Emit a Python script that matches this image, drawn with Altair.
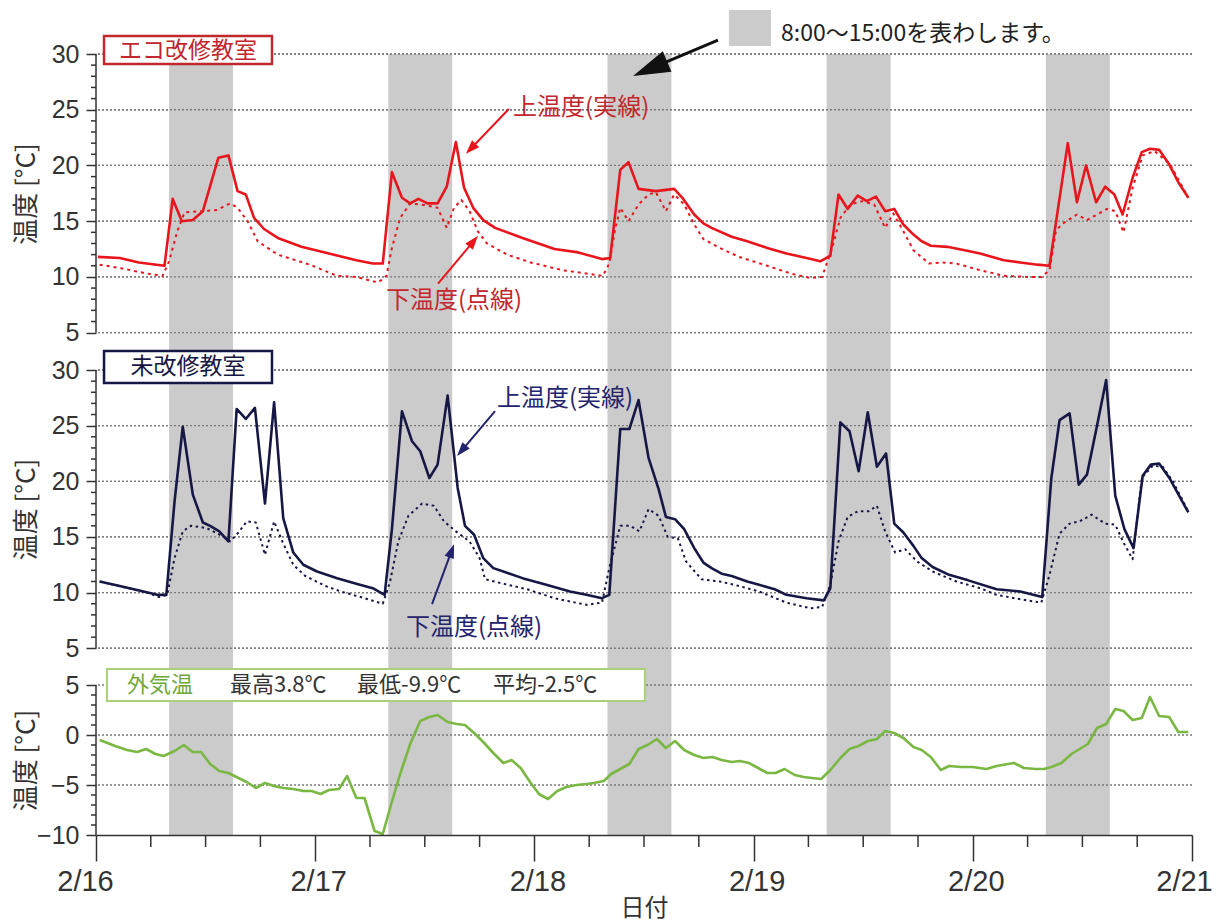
import math
import altair as alt
import pandas as pd

CJK = "Noto Sans CJK JP"
NUM = "Liberation Sans"

# ---------------- data (hours since 2/16 00:00) ----------------
band_start_h = [8, 32, 56, 80, 104]
band_end_h = [15, 39, 63, 87, 111]

eco_upper_h = [0.2, 2.6, 4.7, 7.5, 8.4, 9.4, 10.6, 11.7, 13.4, 14.5, 15.5, 16.4, 17.3, 18.4, 19.9,
               22.5, 25.5, 28.5, 30.3, 31.4, 32.4, 33.5, 34.4, 35.3, 36.3, 37.4, 38.4, 39.4, 40.3,
               41.3, 42.4, 43.7, 46.7, 50.2, 52.8, 55.4, 56.3, 57.4, 58.3, 59.4, 61.3, 63.3, 64.2,
               65.5, 66.5, 67.4, 69.6, 71.3, 73.5, 75.6, 77.8, 79.3, 80.4, 81.3, 82.3, 83.4, 84.4,
               85.4, 86.4, 87.4, 88.4, 89.5, 90.4, 91.4, 93.2, 95.1, 96.8, 99.4, 101.2, 103.1, 104.4,
               106.4, 107.4, 108.4, 109.5, 110.5, 111.5, 112.4, 113.5, 114.5, 115.4, 116.4, 117.5,
               118.5, 119.6]
eco_upper_v = [11.8, 11.7, 11.3, 11.0, 17.0, 15.0, 15.1, 15.9, 20.7, 20.9, 17.7, 17.4, 15.3, 14.3, 13.5,
               12.7, 12.1, 11.5, 11.2, 11.2, 19.4, 17.1, 16.6, 17.0, 16.6, 16.6, 18.1, 22.1, 18.0,
               16.2, 15.1, 14.4, 13.5, 12.5, 12.2, 11.6, 11.7, 19.6, 20.3, 17.9, 17.7, 17.9, 17.1,
               15.6, 14.8, 14.4, 13.6, 13.2, 12.6, 12.1, 11.7, 11.4, 11.9, 17.4, 16.1, 17.3, 16.8,
               17.2, 15.9, 16.1, 14.7, 13.8, 13.2, 12.8, 12.7, 12.4, 12.1, 11.5, 11.3, 11.1, 11.0,
               22.0, 16.7, 20.0, 16.7, 18.1, 17.4, 15.6, 18.9, 21.2, 21.5, 21.4, 20.1,
               18.5, 17.1]

eco_lower_h = [0.4, 2.6, 5.6, 7.3, 8.0, 8.9, 9.7, 11.7, 13.2, 14.7, 15.5, 16.6, 17.7, 19.9, 23.4,
               26.4, 28.5, 30.9, 31.8, 32.4, 33.3, 34.4, 35.5, 36.3, 37.4, 38.4, 39.2, 40.0, 40.9,
               41.8, 42.8, 45.0, 47.6, 51.1, 53.7, 55.5, 56.2, 56.8, 57.4, 58.3, 59.4, 60.5, 61.3,
               62.4, 63.3, 64.4, 65.5, 66.5, 68.3, 70.4, 73.5, 76.1, 78.2, 79.5, 80.6, 81.5, 82.6,
               83.9, 85.2, 86.4, 87.3, 88.4, 89.5, 91.2, 92.5, 94.2, 96.8, 99.4, 102.0, 103.5, 104.4,
               105.1, 105.7, 107.4, 108.5, 110.7, 111.6, 112.5, 113.5, 114.6, 115.9, 117.6, 119.6]
eco_lower_v = [11.1, 10.8, 10.3, 10.1, 11.4, 14.1, 15.8, 15.9, 16.0, 16.6, 16.2, 15.0, 13.2, 12.0, 11.1,
               10.1, 10.0, 9.5, 10.1, 12.6, 15.3, 16.6, 16.5, 16.4, 16.2, 14.4, 16.2, 16.9, 15.9,
               14.1, 13.0, 12.0, 11.3, 10.6, 10.3, 10.1, 11.2, 14.1, 16.2, 15.0, 16.5, 17.4, 17.6,
               15.9, 17.4, 16.5, 14.7, 13.4, 12.6, 11.8, 11.0, 10.3, 9.9, 10.0, 12.6, 15.3, 16.5,
               16.8, 16.5, 14.4, 15.7, 14.1, 12.4, 11.2, 11.3, 11.2, 10.6, 10.1, 10.0, 10.0, 10.6,
               14.1, 14.7, 15.6, 15.1, 16.1, 15.9, 14.0, 18.0, 20.9, 21.3, 20.1, 17.1]

old_upper_h = [0.4, 2.6, 5.2, 6.7, 7.7, 8.6, 9.5, 10.6, 11.7, 12.5, 13.5, 14.5, 15.4, 16.4, 17.4,
               18.5, 19.5, 20.5, 21.6, 22.7, 24.2, 26.4, 28.5, 30.3, 31.6, 32.4, 33.5, 34.6, 35.5,
               36.5, 37.4, 38.5, 39.6, 40.4, 41.4, 42.4, 43.5, 44.6, 46.7, 49.3, 51.9, 53.7, 55.4,
               56.2, 57.4, 58.4, 59.4, 60.5, 61.6, 62.4, 63.4, 64.4, 65.5, 66.5, 67.4, 68.5, 69.6,
               71.3, 72.6, 74.3, 75.6, 77.8, 79.7, 80.4, 81.5, 82.5, 83.5, 84.5, 85.5, 86.5, 87.4,
               88.4, 89.5, 90.4, 91.6, 93.4, 95.5, 98.6, 101.2, 103.6, 104.6, 105.5, 106.6, 107.6,
               108.5, 109.6, 110.6, 111.6, 112.6, 113.6, 114.6, 115.5, 116.4, 117.6, 118.6, 119.6]
old_upper_v = [11.0, 10.6, 10.1, 9.8, 9.8, 18.2, 24.9, 18.8, 16.3, 16.0, 15.5, 14.6, 26.5, 25.6, 26.6,
               18.0, 27.1, 16.7, 13.6, 12.5, 11.9, 11.3, 10.8, 10.4, 9.8, 15.7, 26.3, 23.6, 22.7,
               20.3, 21.5, 27.7, 19.4, 16.0, 15.2, 13.1, 12.2, 11.9, 11.3, 10.7, 10.1, 9.8, 9.5,
               9.8, 24.7, 24.7, 27.3, 22.1, 19.3, 16.8, 16.6, 15.7, 14.0, 12.7, 12.2, 11.7, 11.5,
               11.0, 10.7, 10.3, 9.8, 9.5, 9.3, 10.4, 25.3, 24.5, 20.9, 26.2, 21.3, 22.5, 16.2,
               15.4, 14.2, 13.1, 12.3, 11.6, 11.1, 10.3, 10.1, 9.6, 20.3, 25.5, 26.1, 19.7,
               20.6, 25.0, 29.1, 18.7, 15.7, 14.0, 20.5, 21.5, 21.6, 20.2, 18.7, 17.2]

old_lower_h = [0.4, 5.6, 6.9, 7.8, 8.6, 9.5, 10.4, 12.1, 13.8, 14.7, 15.6, 16.5, 17.5, 18.5, 19.5,
               20.4, 21.6, 22.9, 25.1, 26.8, 29.4, 31.4, 32.2, 33.1, 34.2, 35.7, 37.0, 38.1, 39.4,
               40.9, 42.0, 42.6, 44.1, 47.2, 50.2, 53.7, 55.4, 56.2, 57.4, 58.5, 59.5, 60.5, 61.6,
               62.6, 63.7, 64.6, 66.3, 68.3, 70.4, 72.6, 75.6, 78.2, 79.5, 80.4, 81.3, 82.3, 83.4,
               84.6, 85.5, 86.4, 87.5, 88.6, 89.9, 91.6, 94.2, 96.8, 98.6, 101.2, 103.5, 104.4, 105.5,
               106.6, 107.7, 109.0, 110.5, 111.6, 112.5, 113.5, 114.5, 115.7, 116.8, 117.9, 119.6]
old_lower_v = [11.0, 10.0, 9.6, 9.8, 13.1, 15.5, 16.0, 15.8, 15.1, 14.6, 15.4, 16.4, 16.3, 13.4, 16.4,
               14.6, 12.5, 11.5, 10.6, 10.1, 9.5, 9.0, 11.0, 14.6, 16.9, 18.0, 17.8, 16.4, 15.5,
               14.6, 13.1, 11.2, 10.9, 10.3, 9.5, 8.9, 9.1, 12.2, 16.0, 16.0, 15.5, 17.5, 16.9,
               15.0, 14.9, 12.8, 11.2, 11.0, 10.6, 10.1, 9.1, 8.6, 8.7, 10.7, 14.6, 16.8, 17.3,
               17.3, 17.8, 15.5, 13.6, 13.9, 12.8, 11.9, 11.0, 10.4, 9.8, 9.4, 9.1, 11.6, 15.3,
               16.2, 16.4, 17.0, 16.2, 16.1, 14.5, 13.0, 20.3, 21.4, 21.3, 20.0, 17.3]

out_h = [0.4, 2.1, 3.4, 4.5, 5.5, 6.5, 7.4, 8.6, 9.6, 10.6, 11.5, 12.5, 13.5, 14.5, 15.6, 16.5, 17.5,
         18.5, 19.5, 20.5, 21.6, 22.7, 23.6, 24.6, 25.5, 26.6, 27.5, 28.5, 29.4, 30.5, 31.4, 32.2,
         33.3, 34.4, 35.5, 36.5, 37.4, 38.5, 39.5, 40.4, 41.4, 42.5, 43.5, 44.6, 45.5, 46.5, 47.6,
         48.5, 49.5, 50.5, 51.5, 52.6, 53.7, 54.5, 55.6, 56.4, 57.4, 58.4, 59.4, 60.4, 61.4, 62.4,
         63.4, 64.4, 65.5, 66.5, 67.5, 68.5, 69.6, 70.5, 71.5, 72.5, 73.5, 74.4, 75.4, 76.5, 77.5,
         78.4, 79.4, 80.5, 81.5, 82.5, 83.5, 84.5, 85.5, 86.4, 87.4, 88.4, 89.5, 90.4, 91.4, 92.5,
         93.4, 94.7, 96.0, 97.5, 98.6, 100.5, 101.6, 102.9, 103.8, 104.6, 105.7, 106.8, 107.7,
         108.6, 109.6, 110.6, 111.6, 112.5, 113.5, 114.5, 115.4, 116.4, 117.5, 118.5, 119.6]
out_v = [-0.5, -1.1, -1.5, -1.7, -1.4, -1.9, -2.1, -1.6, -1.0, -1.7, -1.7, -2.9, -3.6, -3.8, -4.3, -4.7, -5.3,
         -4.8, -5.1, -5.3, -5.4, -5.6, -5.6, -5.9, -5.5, -5.4, -4.1, -6.3, -6.3, -9.6, -9.9, -7.3,
         -3.9, -0.9, 1.4, 1.8, 2.0, 1.3, 1.1, 1.0, 0.2, -0.8, -1.8, -2.8, -2.5, -3.3, -4.8,
         -5.9, -6.4, -5.6, -5.2, -5.0, -4.9, -4.8, -4.6, -3.9, -3.4, -2.9, -1.4, -1.0, -0.4, -1.3,
         -0.6, -1.5, -2.0, -2.3, -2.2, -2.5, -2.7, -2.6, -2.8, -3.3, -3.8, -3.8, -3.4, -4.0, -4.2,
         -4.3, -4.4, -3.4, -2.3, -1.4, -1.1, -0.6, -0.4, 0.4, 0.2, -0.3, -1.2, -1.5, -2.2, -3.5,
         -3.1, -3.2, -3.2, -3.4, -3.1, -2.8, -3.3, -3.4, -3.4, -3.2, -2.8, -1.9, -1.4,
         -0.9, 0.7, 1.1, 2.6, 2.4, 1.5, 1.7, 3.8, 1.9, 1.8, 0.3, 0.3]

x_major_hours = [0, 24, 48, 72, 96, 120]
x_minor_hours = [6, 12, 18, 30, 36, 42, 54, 60, 66, 78, 84, 90, 102, 108, 114]
room_major = [5, 10, 15, 20, 25, 30]
room_minor = [v for v in range(6, 30) if v % 5 != 0]
out_major = [-10, -5, 0, 5]
out_minor = [v for v in range(-9, 5) if v % 5 != 0]
room_grid = [5, 10, 15, 20, 25, 30]
out_grid = [-5, 0, 5]

# ---------------- layout / style ----------------
W = 1096
H = [316, 315, 150]
DOMAINS = [[1.65, 30], [1.7, 30], [-10, 5]]
AXIS_C = "#333333"
BAND_C = "#cbcbcb"
GRID_C = "#7a7a7a"
RED = "#e8161c"
RED_T = "#c1272d"
NAVY = "#171745"
NAVY_T = "#24246e"
GREEN = "#7ab843"
GREEN_B = "#a9d07a"
GREEN_T = "#6ea83a"
ANN = 24

XS = alt.Scale(domain=[0, 120], nice=False, zero=False)
U = alt.Undefined


def X(field, p, axis=U):
    if p < 2:
        axis = None  # no x axis on the upper panels
    return alt.X(field, type="quantitative", scale=XS, axis=axis)


def Y(field, p, axis=U):
    return alt.Y(field, type="quantitative",
                 scale=alt.Scale(domain=DOMAINS[p], nice=False, zero=False), axis=axis)


def y_axis(vals, title_y):
    return alt.Axis(
        values=vals, domain=False, grid=False, zindex=1,
        tickSize=10, tickColor=AXIS_C, tickWidth=1.5, labelOverlap=False, labelFlush=False,
        labelFont=NUM, labelFontSize=25, labelColor=AXIS_C, labelPadding=7,
        title="温度 [°C]", titleFont=CJK, titleFontSize=26, titleFontWeight="normal",
        titleColor=AXIS_C, titleAngle=270, titleAlign="center", titleBaseline="middle",
        titleX=-70, titleY=title_y,
    )


x_axis = alt.Axis(
    values=x_major_hours, grid=False, zindex=1, domainColor=AXIS_C, domainWidth=1.5,
    labelExpr="'2/' + (16 + datum.value / 24)",
    tickSize=26,
    labelOffset={"condition": [{"test": "datum.value === 0", "value": -11},
                               {"test": "datum.value === 120", "value": -8}], "value": 3},
    tickColor=AXIS_C, tickWidth=1.5, labelOverlap=False, labelFlush=False,
    labelFont=NUM, labelFontSize=29, labelColor=AXIS_C, labelPadding=6,
    title="日付", titleFont=CJK, titleFontSize=24, titleFontWeight="normal",
    titleColor=AXIS_C, titlePadding=0,
)


def bands(p, axis=U):
    df = pd.DataFrame({"s": band_start_h, "e": band_end_h})
    return alt.Chart(df).mark_rect(color=BAND_C).encode(x=X("s", p, axis), x2="e")


def grid(vals, p, axis):
    df = pd.DataFrame({"v": vals})
    return alt.Chart(df).mark_rule(color=GRID_C, strokeWidth=1.3, strokeDash=[2, 2]).encode(
        y=Y("v", p, axis))


def yline(lo, hi, p):
    df = pd.DataFrame({"x": [0], "y": [lo], "y2": [hi]})
    return alt.Chart(df).mark_rule(color=AXIS_C, strokeWidth=1.5).encode(
        x=X("x", p), y=Y("y", p), y2="y2")


def y_minor(vals, p):
    df = pd.DataFrame({"v": vals})
    return alt.Chart(df).mark_rule(color=AXIS_C, strokeWidth=1.5).encode(
        x=alt.value(-5), x2=alt.value(0), y=Y("v", p))


def x_minor(vals, p):
    df = pd.DataFrame({"h": vals})
    return alt.Chart(df).mark_rule(color=AXIS_C, strokeWidth=1.5).encode(
        x=X("h", p), y=alt.value(H[p]), y2=alt.value(H[p] + 12))


def line(h, v, p, color, width, dash=None):
    df = pd.DataFrame({"h": h, "v": v})
    kw = dict(color=color, strokeWidth=width, strokeJoin="round")
    if dash:
        kw["strokeDash"] = dash
    return alt.Chart(df).mark_line(**kw).encode(x=X("h", p), y=Y("v", p))


def box(x1, x2, y1, y2, p, stroke, fill="white", sw=2.5):
    df = pd.DataFrame({"x": [x1], "x2": [x2], "y": [y1], "y2": [y2]})
    return alt.Chart(df).mark_rect(fill=fill, stroke=stroke, strokeWidth=sw).encode(
        x=X("x", p), x2="x2", y=Y("y", p), y2="y2")


def text(x, y, s, p, color, size=22, align="left", font=CJK):
    df = pd.DataFrame({"x": [x], "y": [y], "t": [s]})
    return alt.Chart(df).mark_text(align=align, baseline="middle", font=font, fontSize=size,
                                   color=color).encode(x=X("x", p), y=Y("y", p), text="t:N")


def arrow(x1, y1, x2, y2, p, color, width, head_len, head_half):
    pxh = W / 120
    pxv = H[p] / (DOMAINS[p][1] - DOMAINS[p][0])
    dxp = (x2 - x1) * pxh
    dyp = (y2 - y1) * pxv
    length = math.hypot(dxp, dyp)
    ang = math.degrees(math.atan2(dxp, dyp)) % 360
    back = head_len * 0.7
    sx = x2 - dxp / length * back / pxh
    sy = y2 - dyp / length * back / pxv
    shaft = alt.Chart(pd.DataFrame({"x": [x1], "y": [y1], "x2": [sx], "y2": [sy]})).mark_rule(
        color=color, strokeWidth=width).encode(x=X("x", p), x2="x2", y=Y("y", p), y2="y2")
    head = alt.Chart(pd.DataFrame({"x": [x2], "y": [y2]})).mark_point(
        shape=f"M0,0L{head_half},2L-{head_half},2Z", filled=True, size=head_len ** 2,
        angle=ang, color=color, opacity=1, strokeWidth=0).encode(x=X("x", p), y=Y("y", p))
    return [shaft, head]


# ---------------- panel 1: eco classroom ----------------
p1_layers = [
    grid(room_grid, 0, y_axis(room_major, 139.5)),
    bands(0),
    grid(room_grid, 0, U),
    yline(5, 30, 0),
    y_minor(room_minor, 0),
    line(eco_lower_h, eco_lower_v, 0, RED, 2, [3, 4]),
    line(eco_upper_h, eco_upper_v, 0, RED, 2.6),
    box(0.88, 19.27, 31.61, 29.10, 0, RED_T),
    text(10.07, 30.3, "エコ改修教室", 0, RED_T, size=23, align="center"),
    text(45.66, 25.2, "上温度(実線)", 0, RED_T, size=ANN),
    text(31.75, 7.87, "下温度(点線)", 0, RED_T, size=ANN),
    *arrow(45.2, 25.07, 40.5, 21.04, 0, RED, 2, 14, 0.7),
    *arrow(37.45, 9.39, 41.83, 13.69, 0, RED, 2, 14, 0.7),
    box(69.3, 73.9, 33.95, 30.72, 0, BAND_C, fill=BAND_C, sw=0),
    text(75.0, 31.75, "8:00～15:00を表わします。", 0, "#222222", size=23),
    *arrow(68.1, 31.25, 58.8, 28.03, 0, "#111111", 3, 37, 0.6),
]
p1 = alt.layer(*p1_layers).properties(width=W, height=H[0])

# ---------------- panel 2: unrenovated classroom ----------------
p2_layers = [
    grid(room_grid, 1, y_axis(room_major, 139.0)),
    bands(1),
    grid(room_grid, 1, U),
    yline(5, 30, 1),
    y_minor(room_minor, 1),
    line(old_lower_h, old_lower_v, 1, NAVY, 2, [2.5, 3.5]),
    line(old_upper_h, old_upper_v, 1, NAVY, 2.6),
    box(0.88, 19.27, 31.71, 28.83, 1, NAVY),
    text(10.07, 30.27, "未改修教室", 1, NAVY, size=23, align="center"),
    text(43.9, 27.4, "上温度(実線)", 1, NAVY_T, size=ANN),
    text(33.94, 6.8, "下温度(点線)", 1, NAVY_T, size=ANN),
    *arrow(43.69, 26.31, 39.53, 22.27, 1, NAVY_T, 2, 14, 0.7),
    *arrow(36.79, 8.96, 39.2, 14.35, 1, NAVY_T, 2, 14, 0.7),
]
p2 = alt.layer(*p2_layers).properties(width=W, height=H[1])

# ---------------- panel 3: outdoor temperature ----------------
p3_layers = [
    bands(2, x_axis),
    grid(out_grid, 2, y_axis(out_major, 75)),
    yline(-10, 5, 2),
    y_minor(out_minor, 2),
    x_minor(x_minor_hours, 2),
    line(out_h, out_v, 2, GREEN, 2.6),
    box(1.2, 60.1, 6.6, 3.4, 2, GREEN_B, sw=2),
    text(3.39, 5.0, "外気温", 2, GREEN_T),
    text(14.67, 5.0, "最高3.8℃", 2, "#333333"),
    text(28.58, 5.0, "最低-9.9℃", 2, "#333333"),
    text(43.47, 5.0, "平均-2.5℃", 2, "#333333"),
]
p3 = alt.layer(*p3_layers).properties(width=W, height=H[2])

chart = alt.vconcat(p1, p2, p3, spacing=0, bounds="flush").properties(
    padding={"left": 13, "top": 9, "right": 4, "bottom": 4},
    background="white",
).configure_view(stroke=None)

chart.save("out.html", embed_options={"renderer": "svg", "actions": False})
